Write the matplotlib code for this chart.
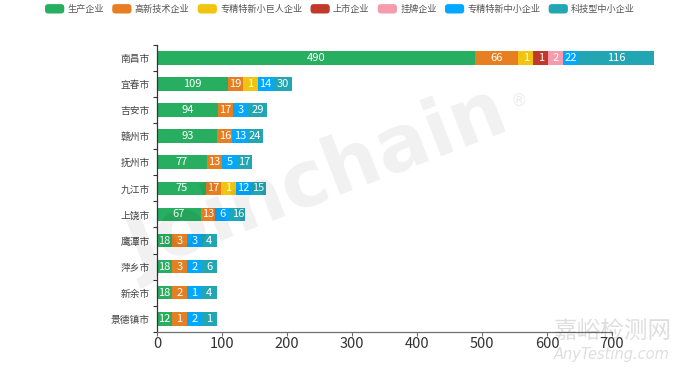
import numpy as np
import matplotlib
matplotlib.use("Agg")
import matplotlib.pyplot as plt
from matplotlib.patches import FancyBboxPatch, Patch
from matplotlib.legend_handler import HandlerPatch

plt.rcParams['font.family'] = ['Noto Sans CJK SC', 'DejaVu Sans']

cities = ['南昌市', '宜春市', '吉安市', '赣州市', '抚州市', '九江市', '上饶市',
          '鹰潭市', '萍乡市', '新余市', '景德镇市']
series_names = ['生产企业', '高新技术企业', '专精特新小巨人企业', '上市企业',
                '挂牌企业', '专精特新中小企业', '科技型中小企业']
shengchan = [490, 109, 94, 93, 77, 75, 67, 18, 18, 18, 12]
gaoxin = [66, 19, 17, 16, 13, 17, 13, 3, 3, 2, 1]
xiaojuren = [1, 1, 0, 0, 0, 1, 0, 0, 0, 0, 0]
shangshi = [1, 0, 0, 0, 0, 0, 0, 0, 0, 0, 0]
guapai = [2, 0, 0, 0, 0, 0, 0, 0, 0, 0, 0]
zhongxiao = [22, 14, 3, 13, 5, 12, 6, 3, 2, 1, 2]
kejixing = [116, 30, 29, 24, 17, 15, 16, 4, 6, 4, 1]
series = [shengchan, gaoxin, xiaojuren, shangshi, guapai, zhongxiao, kejixing]
colors = ['#27ae60', '#e67e22', '#f1c40f', '#c0392b', '#f49cae', '#00a8ff', '#22a6b3']
xticks = [0, 100, 200, 300, 400, 500, 600, 700]
MIN_W = 23  # minimum displayed segment width (data units)

W, H = 680, 377
fig = plt.figure(figsize=(W / 100, H / 100), dpi=100)
ax = fig.add_axes([157 / W, (H - 331.7) / H, (612 - 157) / W, (331.7 - 45.1) / H])

y = np.arange(len(cities))
left = np.zeros(len(cities))
for vals, col in zip(series, colors):
    v = np.array(vals, dtype=float)
    w = np.where(v > 0, np.maximum(v, MIN_W), 0)
    ax.barh(y, w, left=left, height=0.526, color=col, zorder=2, clip_on=False)
    for yi, (vi, wi, li) in enumerate(zip(v, w, left)):
        if vi > 0:
            ax.text(li + wi / 2, yi, f'{int(vi)}', ha='center', va='center',
                    color='white', fontsize=8, zorder=3, clip_on=False)
    left += w

ax.set_xlim(0, 700)
ax.set_ylim(len(cities) - 0.5, -0.5)
ax.set_xticks(xticks)
ax.set_xticklabels([str(t) for t in xticks], fontsize=10.5, color='#333333')
ax.set_yticks(y)
ax.set_yticklabels(cities, fontsize=7, color='#444444')
ax.set_yticks(np.arange(len(cities) + 1) - 0.5, minor=True)
ax.tick_params(axis='y', which='major', length=0, pad=5)
ax.tick_params(axis='y', which='minor', length=3, width=0.8, color='#333333')
ax.tick_params(axis='x', which='major', length=3, width=0.8, color='#6e7079', pad=1)
for s in ['top', 'right']:
    ax.spines[s].set_visible(False)
ax.spines['left'].set_color('#333333')
ax.spines['left'].set_linewidth(0.9)
ax.spines['bottom'].set_color('#6e7079')
ax.spines['bottom'].set_linewidth(0.9)


class RoundHandler(HandlerPatch):
    def create_artists(self, legend, orig_handle, xdescent, ydescent, width, height, fontsize, trans):
        p = FancyBboxPatch((-xdescent, -ydescent), width, height,
                           boxstyle='round,pad=0,rounding_size=%f' % (height * 0.35),
                           facecolor=orig_handle.get_facecolor(), edgecolor='none',
                           transform=trans)
        return [p]


handles = [Patch(facecolor=c, label=n) for c, n in zip(colors, series_names)]
fig.legend(handles=handles, loc='center', bbox_to_anchor=(0.5, 1 - 9 / H), ncol=7,
           frameon=False, fontsize=6.6, handlelength=2.1, handleheight=1.2,
           handletextpad=0.35, columnspacing=0.9, labelcolor='#555555',
           handler_map={Patch: RoundHandler()})

# watermarks
fig.text(318 / W, 1 - 182 / H, 'Joinchain', fontsize=56, fontweight='bold',
         color='#000000', alpha=0.06, rotation=21, ha='center', va='center',
         family='DejaVu Sans', zorder=10)
fig.text(519 / W, 1 - 101 / H, '®', fontsize=12, color='#000000', alpha=0.07,
         ha='center', va='center', family='DejaVu Sans', zorder=10)
fig.text(612 / W, 1 - 332 / H, '嘉峪检测网', fontsize=17, color='#000000', alpha=0.13,
         ha='center', va='center', zorder=10)
fig.text(612 / W, 1 - 355 / H, 'AnyTesting.com', fontsize=10.5, color='#000000',
         alpha=0.13, ha='center', va='center', style='italic', family='DejaVu Sans',
         zorder=10)

fig.savefig('out.png', dpi=100)
